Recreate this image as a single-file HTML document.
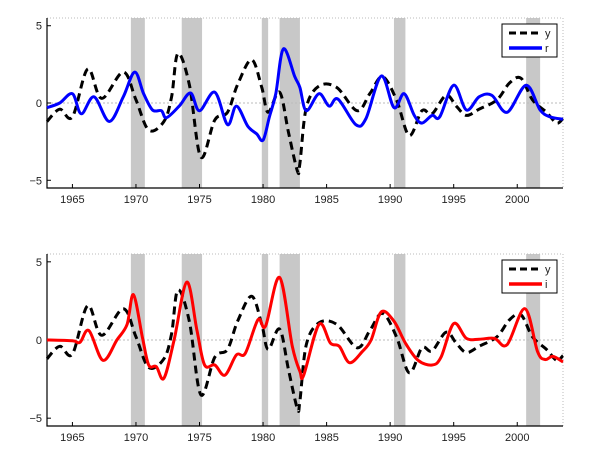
<!DOCTYPE html>
<html><head><meta charset="utf-8"><style>
body{margin:0;background:#fff;}
svg{display:block;font-family:"Liberation Sans",Arial,sans-serif;}
</style></head><body>
<svg id="chart" width="600" height="464" viewBox="0 0 600 464"></svg>
<script>
const recessions=[[1969.6,1970.7],[1973.6,1975.2],[1979.9,1980.4],[1981.3,1982.9],[1990.3,1991.2],[2000.7,2001.8]];
const xTicks=[1965,1970,1975,1980,1985,1990,1995,2000];
const yTicks=[-5,0,5];
const yYears=[1963,1964,1965,1966.2,1967.3,1969,1970,1971,1972.2,1972.8,1973.3,1974.2,1975.1,1976.2,1977.2,1978,1979.1,1979.9,1980.4,1981.3,1982,1982.7,1982.9,1983.4,1984.4,1985.8,1987.4,1988.4,1989.4,1990.5,1991.5,1992.5,1993.3,1994.4,1995.2,1996,1997,1998.4,1999.4,2000.3,2001.2,2002.3,2003.1,2003.6];
const yVals=[-1.2,-0.4,-0.9,2.2,0.3,2.0,0.2,-1.75,-1.2,0.4,3.2,1.2,-3.5,-1.1,-0.6,1.2,2.8,1.0,-0.6,0.7,-1.9,-4.4,-3.9,-0.3,1.1,1.0,-0.5,0.6,1.7,0.2,-2.1,-0.5,-0.7,0.5,-0.2,-0.8,-0.4,0.2,1.3,1.6,0.2,-0.6,-1.3,-1.0];
const rYears=[1963,1964,1965,1965.7,1966.7,1967.9,1969,1969.9,1970.6,1971.3,1972,1972.4,1973.4,1974.3,1975,1976.2,1977.2,1977.9,1978.8,1979.5,1980,1980.5,1981,1981.6,1982.5,1982.9,1983.4,1984.4,1985.2,1985.9,1987.3,1988.1,1989.3,1990.3,1991.1,1991.9,1992.5,1993.3,1993.9,1995,1996,1997,1998,1999.2,2000.7,2001.8,2002.6,2003.6];
const rVals=[-0.3,0.0,0.6,-0.7,0.4,-1.2,0.4,2.0,0.6,-0.45,-0.5,-0.95,-0.2,0.65,-0.5,0.7,-1.4,-0.2,-1.5,-2.0,-2.4,-0.9,0.6,3.5,1.7,1.0,-0.5,0.6,-0.2,0.25,-1.4,-1.0,1.75,-0.3,0.6,-0.8,-1.3,-0.8,-0.9,1.15,-0.45,0.4,0.5,-0.6,1.15,-0.45,-0.9,-1.05];
const iYears=[1963,1965,1965.6,1966.3,1967.4,1968.5,1969.3,1969.8,1970.5,1971,1971.6,1972.2,1973,1974,1974.8,1975.4,1976.2,1977,1977.9,1978.6,1979.6,1980.2,1981.3,1982.3,1982.9,1983.2,1984.4,1985.3,1986,1986.8,1987.8,1988.5,1989.3,1990.3,1991.2,1992.2,1993.3,1994,1995,1996,1997,1998.2,1999.2,2000.6,2001.6,2002.2,2002.8,2003.6];
const iVals=[0,-0.05,-0.15,0.6,-1.3,0,1.0,2.9,0.2,-1.6,-1.7,-2.45,0,3.7,0.6,-1.6,-1.6,-2.25,-0.95,-0.85,1.3,0.9,4.0,-0.4,-2.0,-2.25,1.0,-0.2,-0.4,-1.45,-0.75,0,1.8,1.2,-0.2,-1.3,-1.6,-1.1,1.05,0.1,0.05,0.1,-0.3,2.0,-0.75,-1.25,-1.05,-1.4];

const svg=document.getElementById('chart');
const NS='http://www.w3.org/2000/svg';
function mk(tag,attrs,parent){const e=document.createElementNS(NS,tag);for(const k in attrs)e.setAttribute(k,attrs[k]);(parent||svg).appendChild(e);return e;}
const X0=47,X1=563,XMIN=1963,XMAX=2003.6;
function sx(v){return X0+(v-XMIN)/(XMAX-XMIN)*(X1-X0);}
function smooth(pts){let d='M'+pts[0][0].toFixed(1)+','+pts[0][1].toFixed(1);
 for(let i=0;i<pts.length-1;i++){const p0=pts[Math.max(0,i-1)],p1=pts[i],p2=pts[i+1],p3=pts[Math.min(pts.length-1,i+2)];
 d+=' C'+(p1[0]+(p2[0]-p0[0])/6).toFixed(1)+','+(p1[1]+(p2[1]-p0[1])/6).toFixed(1)+' '+(p2[0]-(p3[0]-p1[0])/6).toFixed(1)+','+(p2[1]-(p3[1]-p1[1])/6).toFixed(1)+' '+p2[0].toFixed(1)+','+p2[1].toFixed(1);}
 return d;}
function panel(name,top,bottom,otherYears,otherVals,color,label){
 const g=mk('g',{});
 
 
 const YMIN=-5.5,YMAX=5.5;
 const sy=v=>bottom-(v-YMIN)/(YMAX-YMIN)*(bottom-top);
 recessions.forEach(r=>{const b=mk('rect',{x:sx(r[0]),y:top,width:sx(r[1])-sx(r[0]),height:bottom-top,fill:'#c8c8c8'},g);
  
  });
 const z=mk('line',{x1:X0,x2:X1,y1:sy(0),y2:sy(0),stroke:'#bbb','stroke-width':1,'stroke-dasharray':'2,2'},g);
 
 
 mk('path',{d:`M${X0},${top}H${X1}V${bottom}`,fill:'none',stroke:'#bbb','stroke-dasharray':'1,2'},g);
 const ax=mk('path',{d:`M${X0},${top}V${bottom}H${X1}`,fill:'none',stroke:'#000','stroke-width':1.2},g);
 
 
 xTicks.forEach(t=>{mk('line',{x1:sx(t),x2:sx(t),y1:bottom,y2:bottom-4,stroke:'#000'},g);
  const tx=mk('text',{x:sx(t),y:bottom+15,'text-anchor':'middle','font-size':11,fill:'#222'},g);tx.textContent=t;
  
  });
 yTicks.forEach(t=>{mk('line',{x1:X0,x2:X0+4,y1:sy(t),y2:sy(t),stroke:'#000'},g);
  const tx=mk('text',{x:X0-5,y:sy(t)+4,'text-anchor':'end','font-size':11,fill:'#222'},g);tx.textContent=t<0?'\u2212'+(-t):t;
  
  });
 const l1=mk('path',{d:smooth(yYears.map((y,i)=>[sx(y),sy(yVals[i])])),fill:'none',stroke:'#000','stroke-width':3,'stroke-dasharray':'8,5'},g);
 
 
 const l2=mk('path',{d:smooth(otherYears.map((y,i)=>[sx(y),sy(otherVals[i])])),fill:'none',stroke:color,'stroke-width':3},g);
 
 
 const lt=top+6;
 const lg=mk('g',{},g);
 
 
 mk('rect',{x:502,y:lt,width:55,height:33,fill:'#fff',stroke:'#000'},lg);
 mk('line',{x1:509,x2:542,y1:lt+9,y2:lt+9,stroke:'#000','stroke-width':3,'stroke-dasharray':'7,4'},lg);
 const t1=mk('text',{x:545,y:lt+13,'font-size':11,fill:'#222'},lg);t1.textContent='y';
 mk('line',{x1:509,x2:542,y1:lt+24,y2:lt+24,stroke:color,'stroke-width':3.5},lg);
 const t2=mk('text',{x:545,y:lt+28,'font-size':11,fill:'#222'},lg);t2.textContent=label;
}
panel('top-panel',18,188,rYears,rVals,'#0000ff','r');
panel('bottom-panel',254,426,iYears,iVals,'#ff0000','i');
</script>
</body></html>
